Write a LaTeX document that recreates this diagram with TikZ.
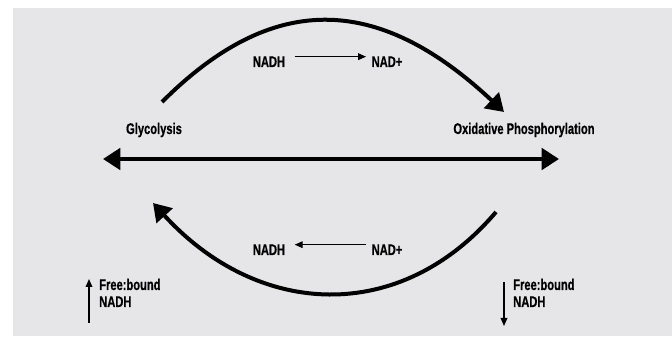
\documentclass[tikz,border=0pt]{standalone}
\usepackage{fontspec}
\newfontfamily\labelfont[FakeStretch=0.72,FakeBold=0.6]{Liberation Sans}
\usetikzlibrary{arrows.meta}

\begin{document}
\begin{tikzpicture}[x=0.75pt,y=-0.75pt,
  lbl/.style={font=\labelfont\bfseries\fontsize{11.6}{12.75}\selectfont,inner sep=0pt,anchor=base},
  bigarrow/.style={line width=3pt,>={Triangle[length=13pt,width=16pt]}},
  thinarrow/.style={line width=0.9pt,>={Triangle[length=6pt,width=5pt]}}]
% ------------------------------------------------ colours
\definecolor{bg_gray}{RGB}{230,230,232}

\useasboundingbox (0,0) rectangle (672,338);
\fill[bg_gray] (13,8) rectangle (672,336);

% ------------------------------------------------ labels
\node[lbl] (glyco)  at (154,134) {Glycolysis};
\node[lbl] (oxphos) at (524,134) {Oxidative Phosphorylation};

\node[lbl] (nadhTop) at (269,67)  {NADH};
\node[lbl] (nadTop)  at (387,67)  {NAD+};
\node[lbl] (nadhBot) at (269,255) {NADH};
\node[lbl] (nadBot)  at (387,255) {NAD+};

\node[lbl,anchor=base west,align=left] (ratioL) at (99,307)  {Free:bound\\NADH};
\node[lbl,anchor=base west,align=left] (ratioR) at (513,307) {Free:bound\\NADH};

% ------------------------------------------------ arc end points
\coordinate (topStart) at (162,102);
\coordinate (topEnd)   at (504,112);
\coordinate (botStart) at (496,212);
\coordinate (botEnd)   at (153,203);
\coordinate (axisL)    at (103,159);
\coordinate (axisR)    at (559,159);
\coordinate (upFrom)   at (89,323);
\coordinate (upTo)     at (89,279);
\coordinate (downFrom) at (504,282);
\coordinate (downTo)   at (504,326);

% ------------------------------------------------ big arrows
\draw[bigarrow,->] (topStart) .. controls (271,-7) and (376,-8) .. (topEnd);
\draw[bigarrow,->] (botStart) .. controls (400,325) and (258,318) .. (botEnd);
\draw[bigarrow,<->] (axisL) -- (axisR);

% ------------------------------------------------ small arrows
\draw[thinarrow,->,shorten <=7pt,shorten >=4pt] (nadhTop.east) ++(0,-5) coordinate (a1) -- (nadTop.west |- a1);
\draw[thinarrow,->,shorten <=4pt,shorten >=7pt] (nadBot.west) ++(0,-5) coordinate (a2) -- (nadhBot.east |- a2);
\draw[thinarrow,->] (upFrom) -- (upTo);
\draw[thinarrow,->] (downFrom) -- (downTo);

\end{tikzpicture}
\end{document}
